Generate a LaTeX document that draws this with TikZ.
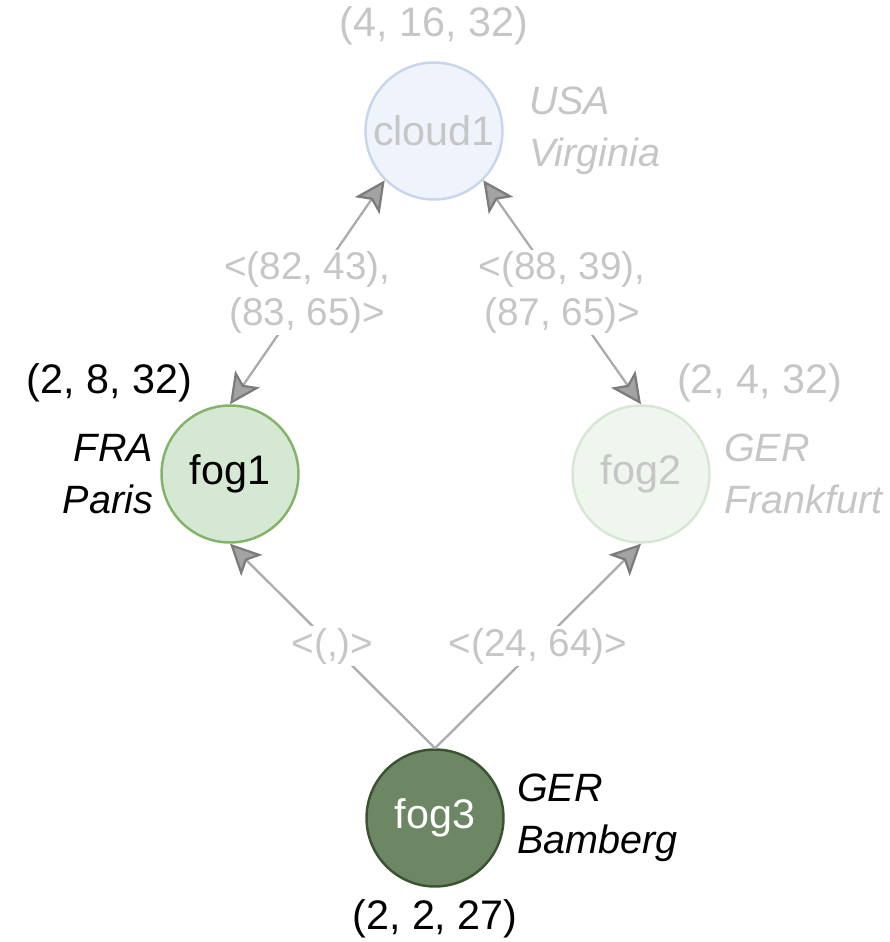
\documentclass[tikz,border=0pt]{standalone}
\usepackage{fontspec}
\setmainfont{Liberation Sans}
\usetikzlibrary{arrows.meta,positioning}
\definecolor{cloudfill}{HTML}{EFF4FC}
\definecolor{clouddraw}{HTML}{C8D6EC}
\definecolor{fogfill}{HTML}{D5E8D4}
\definecolor{fogdraw}{HTML}{82B366}
\definecolor{fogpalefill}{HTML}{EFF6EE}
\definecolor{fogpaledraw}{HTML}{D6E8D3}
\definecolor{fogdarkfill}{HTML}{6D8764}
\definecolor{fogdarkdraw}{HTML}{3A5431}
\definecolor{pale}{HTML}{C6C6C6}
\definecolor{linkgray}{HTML}{ABABAB}
\definecolor{tipfill}{HTML}{A3A3A3}
\definecolor{tipdraw}{HTML}{7C7C7C}
\begin{document}
\begin{tikzpicture}[x=0.02cm, y=-0.02cm, line join=round,
    site/.style={circle, minimum size=2.74cm, inner sep=0pt, line width=1.4pt,
      font=\fontsize{23.5}{28}\selectfont},
    caps/.style={inner sep=1pt, font=\fontsize{23.5}{28}\selectfont},
    place/.style={inner sep=0.1cm, align=left, font=\fontsize{22.5}{29.5}\selectfont\itshape},
    elabel/.style={fill=white, inner sep=1pt, align=center, text=pale,
      font=\fontsize{22}{26}\selectfont},
    link/.style={draw=linkgray, line width=1.3pt},
    tip/.tip={Stealth[length=17.5pt, width=17pt, inset=4pt, fill=tipfill, color=tipdraw]},
    oneway/.style={link, -tip},
    twoway/.style={link, tip-tip}]
  % 1. Frame of the picture
  \useasboundingbox (0,0) rectangle (889,942);

  % 2. The four sites
  \node[site, fill=cloudfill, draw=clouddraw, text=pale] (cloud1) at (434,131) {cloud1};
  \node[site, fill=fogfill, draw=fogdraw] (fog1) at (230,474) {fog1};
  \node[site, fill=fogpalefill, draw=fogpaledraw, text=pale] (fog2) at (641,474) {fog2};
  \node[site, fill=fogdarkfill, draw=fogdarkdraw, text=white] (fog3) at (435,818) {fog3};

  % Resource triples
  \node[caps, text=pale, above=0.28cm of cloud1] (cloud1cap) {(4, 16, 32)};
  \node[caps, above left=0cm and 0.72cm of fog1.north] (fog1cap) {(2, 8, 32)};
  \node[caps, text=pale, above right=0cm and 0.68cm of fog2.north] (fog2cap) {(2, 4, 32)};
  \node[caps, below=0.2cm of fog3] (fog3cap) {(2, 2, 27)};

  % Locations
  \node[place, text=pale, right=0.4cm of cloud1] (cloud1loc) {USA\\Virginia};
  \node[place, align=right, left=0.04cm of fog1] (fog1loc) {FRA\\Paris};
  \node[place, text=pale, right=0.16cm of fog2] (fog2loc) {GER\\Frankfurt};
  \node[place, right=0.14cm of fog3] (fog3loc) {GER\\Bamberg};

  % 3. Links with latency pairs
  \draw[twoway] (fog1.north) -- node[elabel] {<(82, 43),\\(83, 65)>} (cloud1.south west);
  \draw[twoway] (fog2.north) -- node[elabel] {<(88, 39),\\(87, 65)>} (cloud1.south east);
  \draw[oneway] (fog3.north) -- node[elabel] {<(,)>} (fog1.south);
  \draw[oneway] (fog3.north) -- node[elabel] {<(24, 64)>} (fog2.south);
\end{tikzpicture}
\end{document}
